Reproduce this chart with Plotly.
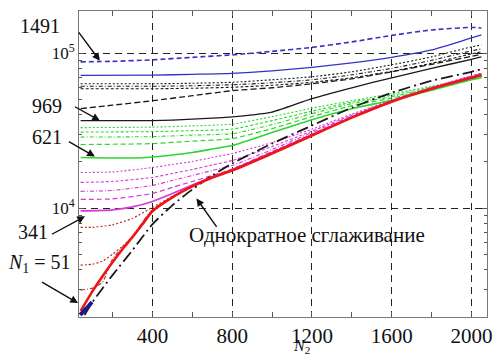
import plotly.graph_objects as go

# ---------------- data ----------------
x_a = [40, 200, 400, 600, 800, 1000, 1200, 1400, 1600, 1800, 2000, 2050]
blue_dashed = [87900, 88550, 90550, 93970, 97500, 102700, 109000, 118200, 130200, 141200, 146600, 145500]

x_b = [40, 400, 600, 800, 1000, 1200, 1400, 1600, 1800, 2000, 2050]
blue_solid = [71960, 72180, 73050, 74130, 76900, 81000, 86600, 94000, 105000, 125500, 131200]
black_dot_a = [63450, 63450, 63930, 64880, 67330, 70400, 75800, 84100, 94670, 109800, 113100]
black_dashdot_b = [61140, 61140, 61600, 62520, 64400, 67330, 72500, 79800, 89900, 103500, 106600]
black_dot_c = [58900, 58900, 59350, 60240, 62060, 64880, 69350, 76360, 86000, 98970, 101950]

x_d = [40, 200, 400, 600, 800, 1000, 1200, 1400, 1600, 1800, 2000, 2050]
black_dashed = [43810, 46150, 49320, 53110, 57200, 59790, 63450, 68320, 75800, 84720, 95370, 98250]

x_e = [40, 400, 500, 600, 700, 800, 900, 1000, 1200, 1400, 1600, 1800, 2000, 2050]
black_solid = [36670, 36670, 36940, 37500, 38050, 38800, 39900, 41600, 50800, 59790, 69350, 79800, 91230, 94670]

green_1 = [33060, 33310, 33910, 34830, 38910, 44130, 49320, 54710, 61140, 69350, 71430]
green_2 = [30930, 31160, 31620, 32320, 36670, 42220, 48250, 53500, 60240, 68830, 70900]
green_3 = [28720, 28930, 29580, 30250, 34570, 40700, 47180, 52340, 59350, 68320, 70400]
green_4 = [25700, 26080, 27060, 28090, 32580, 38910, 45800, 51180, 58480, 67800, 69870]

x_g = [40, 300, 400, 500, 600, 700, 800, 1000, 1200, 1400, 1600, 1800, 2000, 2050]
green_solid = [21200, 21040, 21350, 21990, 22830, 24040, 25320, 30700, 37220, 43810, 49700, 57620, 67330, 69350]

x_m = [40, 200, 400, 500, 600, 700, 800, 1000, 1200, 1400, 1600, 1800, 2000, 2050]
magenta_5 = [16970, 17100, 18270, 19110, 19980, 21200, 22490, 26470, 32320, 40400, 49700, 60240, 71430, 74130]
magenta_4 = [14640, 14850, 15760, 16720, 17740, 18970, 20270, 24950, 31390, 39800, 49320, 59790, 71120, 73800]
magenta_3 = [12810, 13000, 14000, 15080, 16230, 17480, 18830, 23860, 30700, 39210, 49110, 59530, 70800, 73580]
magenta_2 = [11380, 11460, 12430, 13590, 14850, 16230, 17880, 23170, 30030, 38910, 48900, 59260, 70400, 73250]

x_m1 = [40, 200, 300, 400, 500, 600, 700, 800, 1000, 1200, 1400, 1600, 1800, 2000, 2050]
magenta_solid = [9594, 9737, 10180, 11040, 12430, 14100, 15880, 17740, 22830, 29580, 38620, 48750, 59090, 70090, 72930]

x_r = [40, 100, 150, 200, 250, 300, 350, 400, 500, 600, 700, 800, 1000, 1200, 1400, 1600, 1800, 2000, 2050]
red_solid = [2164, 2911, 3635, 4473, 5423, 6477, 7854, 9530, 11720, 13790, 15760, 17480, 22490, 29400, 38350, 48600, 58900, 69300, 72000]

x_r2 = [40, 100, 150, 200, 300, 400, 600, 800, 1000, 1200, 1400, 1600, 1800, 2000, 2050]
red_2 = [2954, 3043, 3325, 4676, 6574, 9700, 13900, 17610, 22660, 29580, 38620, 48960, 59350, 69870, 72500]

x_r3 = [40, 100, 150, 200, 250, 300, 400, 600, 800]
red_3 = [4279, 4343, 4540, 5036, 5668, 6526, 9637, 13790, 17480]

x_r4 = [40, 100, 200, 300, 400, 500, 600, 800]
red_4 = [7512, 7512, 7796, 8585, 10100, 11890, 13900, 17610]

x_s = [60, 100, 200, 300, 400, 500, 600, 700, 800, 1000, 1200, 1400, 1600, 1800, 2000, 2050]
single = [2039, 2472, 3689, 5343, 7854, 10410, 13190, 16220, 19400, 26080, 34100, 44460, 55530, 66320, 75800, 78670]

x_blob = [38, 60, 80, 97]
blob = [2039, 2197, 2330, 2472]

x_ticks = [400, 800, 1200, 1600, 2000]
y_ticks = [1e4, 1e5]
y_ticktext = ["10<sup>4</sup>", "10<sup>5</sup>"]

# ---------------- styles ----------------
BLUE = "#3434c4"
GREEN = "#2ed62e"
MAG = "#d838d8"
RED = "#ee1515"
DRED = "#b83030"
BLK = "#1a1a1a"
SERIF = "Liberation Serif"

fig = go.Figure()


def add(x, y, color, width=1.2, dash="solid"):
    fig.add_trace(go.Scatter(x=x, y=y, mode="lines",
                             line=dict(color=color, width=width, dash=dash,
                                       shape="spline", smoothing=0.6),
                             showlegend=False, hoverinfo="skip"))


add(x_a, blue_dashed, BLUE, 1.6, "5px,3px")
add(x_b, blue_solid, BLUE, 1.3)
add(x_b, black_dot_a, BLK, 1.1, "2px,2px")
add(x_b, black_dashdot_b, BLK, 1.1, "4px,2px,1px,2px")
add(x_b, black_dot_c, BLK, 1.1, "3px,2px")
add(x_d, black_dashed, BLK, 1.3, "6px,3px")
add(x_e, black_solid, BLK, 1.3)
add(x_b, green_1, GREEN, 1.1, "2px,2px")
add(x_b, green_2, GREEN, 1.1, "3px,2px")
add(x_b, green_3, GREEN, 1.1, "4px,2px,1px,2px")
add(x_b, green_4, GREEN, 1.2, "5px,3px")
add(x_g, green_solid, GREEN, 1.6)
add(x_m, magenta_5, MAG, 1.1, "2px,2px")
add(x_m, magenta_4, MAG, 1.1, "3px,2px")
add(x_m, magenta_3, MAG, 1.1, "4px,2px,1px,2px")
add(x_m, magenta_2, MAG, 1.2, "5px,3px")
add(x_m1, magenta_solid, MAG, 1.6)
add(x_s, single, BLK, 1.8, "12px,4px,2px,4px")
add(x_r4, red_4, DRED, 1.2, "2px,2px")
add(x_r3, red_3, DRED, 1.2, "2px,2px")
add(x_r2, red_2, DRED, 1.2, "4px,2px,1px,2px")
add(x_r, red_solid, RED, 2.6)
add(x_blob, blob, "#1a1a8a", 4)

fig.update_layout(
    width=502, height=358,
    margin=dict(l=79, r=13, t=10, b=41),
    paper_bgcolor="white", plot_bgcolor="white",
    font=dict(family=SERIF, size=20, color="#111"),
    xaxis=dict(range=[32, 2078], tickvals=x_ticks, ticks="inside", ticklen=5,
               tickcolor="#555", showline=True, linecolor="#777", linewidth=1,
               mirror="ticks", showgrid=True, gridcolor="#222", gridwidth=1,
               griddash="7px,5px", zeroline=False,
               tickfont=dict(family=SERIF, size=21, color="#111"),
               minor=dict(tick0=0, dtick=200, ticks="inside", ticklen=5,
                          tickcolor="#555", showgrid=False)),
    yaxis=dict(type="log", range=[3.2967, 5.2722], tickvals=y_ticks,
               ticktext=y_ticktext, ticks="inside", ticklen=5, tickcolor="#555",
               showline=True, linecolor="#777", linewidth=1, mirror="ticks",
               showgrid=True, gridcolor="#222", gridwidth=1, griddash="7px,5px",
               zeroline=False, tickfont=dict(family=SERIF, size=17, color="#111"),
               minor=dict(dtick="D1", ticks="inside", ticklen=3,
                          tickcolor="#555", showgrid=False)),
)

# text labels (paper coordinates)
texts = [
    ("1491", -0.0951, 0.951, 20),
    ("969", -0.078, 0.6906, 20),
    ("621", -0.078, 0.5896, 20),
    ("341", -0.1122, 0.2769, 20),
    ("<i>N</i><sub>1</sub> = 51", -0.0976, 0.1759, 20),
    ("Однократное сглаживание", 0.5585, 0.2671, 21),
]
for t, xp, yp, fs in texts:
    fig.add_annotation(text=t, x=xp, y=yp, xref="paper", yref="paper",
                       showarrow=False, font=dict(family=SERIF, size=fs, color="#111"),
                       xanchor="center", yanchor="middle")

# axis title N2, below the tick labels near the bottom edge
fig.add_annotation(text="<i>N</i><sub>2</sub>", x=0.5463, y=-0.1303,
                   xref="paper", yref="paper", showarrow=False,
                   font=dict(family=SERIF, size=16, color="#111"),
                   xanchor="center", yanchor="bottom", borderpad=0)

# arrows (tip in paper coords, tail offset in pixels)
arrows = [
    (0.0512, 0.8371, -23, -31),
    (0.0512, 0.6417, -27, -15),
    (0.039, 0.5244, -28, -16),
    (0.0146, 0.329, -35, 19),
    (-0.0024, 0.0456, -38, -22),
    (0.2878, 0.3876, 22, 31),
]
for xp, yp, ax, ay in arrows:
    fig.add_annotation(text=" ", x=xp, y=yp, xref="paper", yref="paper",
                       ax=ax, ay=ay, showarrow=True, arrowhead=2, arrowsize=1.1,
                       arrowwidth=1.4, arrowcolor="#111", font=dict(size=2))

fig.write_html("out.html", config={"displayModeBar": False},
               post_script="document.body.style.margin='0';document.body.style.padding='0';")
